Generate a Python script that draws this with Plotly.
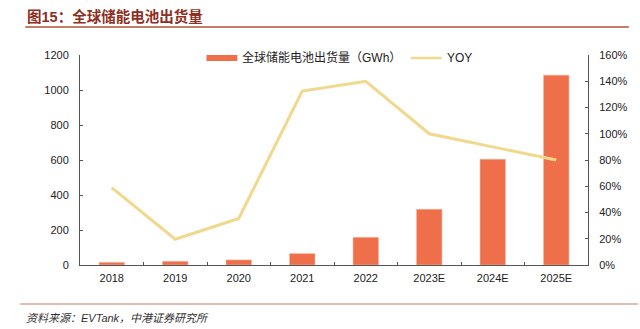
import plotly.graph_objects as go

categories = ["2018", "2019", "2020", "2021", "2022", "2023E", "2024E", "2025E"]
shipments_gwh = [15, 21, 29, 65, 158, 318, 604, 1085]
yoy = [0.59, 0.196, 0.355, 1.325, 1.40, 1.00, 0.90, 0.80]
left_ticks = [0, 200, 400, 600, 800, 1000, 1200]
right_ticks = [0, 0.2, 0.4, 0.6, 0.8, 1.0, 1.2, 1.4, 1.6]

title_text = "图15：全球储能电池出货量"
source_text = "资料来源：EVTank，中港证券研究所"
bar_name = "全球储能电池出货量（GWh）"
line_name = "YOY"

BAR_C = "#EE6F4A"
LINE_C = "#F0D88C"
FONT = "Liberation Sans, Arial, Noto Sans CJK SC, sans-serif"

W, H = 640, 329
ML, MR, MT, MB = 80, 50, 55, 64
PW, PH = W - ML - MR, H - MT - MB


def px(x):
    return (x - ML) / PW


def py(y):
    return (H - MB - y) / PH


fig = go.Figure()
fig.add_trace(go.Bar(
    x=categories, y=shipments_gwh, name=bar_name, width=0.4,
    marker=dict(color=BAR_C, line=dict(color="#F6B29C", width=0.6)),
    showlegend=False, yaxis="y"))
fig.add_trace(go.Scatter(
    x=categories, y=yoy, name=line_name, mode="lines",
    line=dict(color=LINE_C, width=3), showlegend=False, yaxis="y2"))

axis_common = dict(
    showgrid=False, zeroline=False, showline=True, linecolor="#555555", linewidth=1,
    ticks="inside", ticklen=3, tickcolor="#555555",
    tickfont=dict(family=FONT, size=11, color="#222222"))

fig.update_layout(
    width=W, height=H,
    margin=dict(l=ML, r=MR, t=MT, b=MB, pad=0),
    paper_bgcolor="white", plot_bgcolor="white",
    font=dict(family=FONT, color="#222222"),
    showlegend=False,
    bargap=0.6,
    xaxis=dict(type="category", tickson="boundaries", ticklabelstandoff=3, **axis_common),
    yaxis=dict(range=[0, 1200], tickvals=left_ticks, ticklabelstandoff=8, **axis_common),
    yaxis2=dict(range=[0, 1.6], tickvals=right_ticks, tickformat=".0%", overlaying="y",
                side="right", ticklabelstandoff=8, **axis_common),
)

shapes = [
    # title underline
    dict(type="line", xref="paper", yref="paper", x0=px(25), x1=px(631), y0=py(27), y1=py(27),
         line=dict(color="#B0543A", width=1.5)),
    # bottom separator
    dict(type="line", xref="paper", yref="paper", x0=px(20), x1=px(640), y0=py(304), y1=py(304),
         line=dict(color="#D8A597", width=1.5)),
    # legend swatches
    dict(type="rect", xref="paper", yref="paper", x0=px(207), x1=px(238), y0=py(61), y1=py(55),
         fillcolor=BAR_C, line=dict(width=0)),
    dict(type="line", xref="paper", yref="paper", x0=px(412), x1=px(443), y0=py(58), y1=py(58),
         line=dict(color=LINE_C, width=2.5)),
]

annotations = [
    dict(text="<b>" + title_text + "</b>", xref="paper", yref="paper", x=px(25), y=py(16),
         xanchor="left", yanchor="middle", showarrow=False,
         font=dict(family=FONT, size=14.5, color="#8E2F22")),
    dict(text="<i>" + source_text + "</i>", xref="paper", yref="paper", x=px(24), y=py(318),
         xanchor="left", yanchor="middle", showarrow=False,
         font=dict(family=FONT, size=11, color="#333333")),
    dict(text=bar_name, xref="paper", yref="paper", x=px(241), y=py(58),
         xanchor="left", yanchor="middle", showarrow=False,
         font=dict(family=FONT, size=12, color="#222222")),
    dict(text=line_name, xref="paper", yref="paper", x=px(446), y=py(58),
         xanchor="left", yanchor="middle", showarrow=False,
         font=dict(family=FONT, size=12, color="#222222")),
]

fig.update_layout(shapes=shapes, annotations=annotations)
fig.write_html("out.html")
